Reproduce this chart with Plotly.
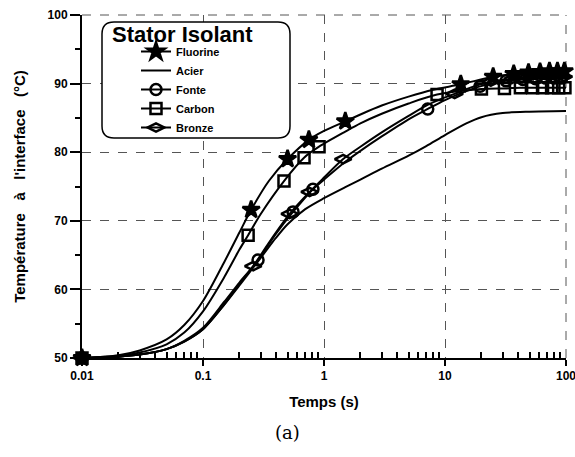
import plotly.graph_objects as go

# ---------------- data ----------------
fluorine_t = [0.01, 0.02, 0.03, 0.05, 0.07, 0.1, 0.15, 0.2, 0.25, 0.35, 0.5, 0.75, 1.0, 1.5, 2, 3, 5, 8,
              13.5, 25, 37, 49, 61, 73, 85, 97, 100]
fluorine_T = [50, 50.4, 51.1, 52.7, 54.8, 58.3, 64.0, 68.3, 71.6, 75.8, 79.0, 81.8, 83.1, 84.5, 85.5, 86.8, 88.1, 89.1,
              89.9, 91.0, 91.4, 91.6, 91.7, 91.8, 91.8, 91.8, 91.8]
fluorine_mk = [0, 8, 10, 11, 13, 18, 19, 20, 21, 22, 23, 24, 25]

acier_t = [0.01, 0.02, 0.03, 0.05, 0.07, 0.1, 0.15, 0.2, 0.3, 0.4, 0.5, 0.7, 1, 1.5, 2, 3, 5, 7, 10, 15, 20, 30, 50, 100]
acier_T = [50, 50.2, 50.5, 51.3, 52.4, 54.2, 57.8, 60.6, 64.6, 67.5, 69.5, 71.7, 73.3, 74.9, 76.0, 77.6, 79.5, 80.9,
           82.5, 84.2, 85.1, 85.7, 85.9, 86.0]
acier_mk = []

fonte_t = [0.01, 0.02, 0.03, 0.05, 0.07, 0.1, 0.15, 0.2, 0.285, 0.4, 0.555, 0.81, 1.0, 1.5, 2, 3, 5, 7.2, 10, 15,
           19.5, 32, 44, 56, 68, 80, 92, 100]
fonte_T = [50, 50.2, 50.5, 51.3, 52.4, 54.2, 57.8, 60.8, 64.3, 68.1, 71.3, 74.6, 76.0, 78.6, 80.2, 82.3, 84.8, 86.3,
           87.6, 88.9, 89.6, 90.4, 90.6, 90.7, 90.8, 90.8, 90.8, 90.8]
fonte_mk = [0, 8, 10, 11, 17, 20, 21, 22, 23, 24, 25, 26]

carbon_t = [0.01, 0.02, 0.03, 0.05, 0.07, 0.1, 0.15, 0.2, 0.236, 0.3, 0.467, 0.684, 0.91, 1.5, 2, 3, 5, 8.6,
            20, 31, 42, 53, 64, 76, 87, 98, 100]
carbon_T = [50, 50.3, 50.8, 52.0, 53.7, 56.8, 61.8, 65.8, 67.9, 71.0, 75.8, 79.2, 80.8, 83.0, 84.2, 85.6, 87.1, 88.4,
            89.2, 89.3, 89.4, 89.4, 89.4, 89.4, 89.4, 89.4, 89.4]
carbon_mk = [0, 8, 10, 11, 12, 17, 18, 19, 20, 21, 22, 23, 24, 25]

bronze_t = [0.01, 0.02, 0.03, 0.05, 0.07, 0.1, 0.15, 0.2, 0.26, 0.35, 0.52, 0.76, 1.0, 1.44, 2, 3, 5, 7, 10, 12, 15,
            24, 36, 48, 60, 72, 84, 96, 100]
bronze_T = [50, 50.2, 50.5, 51.3, 52.5, 54.4, 58.2, 61.0, 63.4, 66.8, 71.0, 74.2, 76.3, 79.0, 80.8, 82.9, 85.3, 86.8,
            88.0, 88.5, 89.2, 90.3, 90.7, 90.9, 91.0, 91.0, 91.0, 91.0, 91.0]
bronze_mk = [0, 8, 10, 11, 13, 19, 21, 22, 23, 24, 25, 26, 27]

x_tickvals = [0.01, 0.1, 1, 10, 100]
x_ticktext = ["0.01", "0.1", "1", "10", "100"]
x_minor = [m * 10.0 ** d for d in (-2, -1, 0, 1) for m in range(2, 10)]
y_tickvals = [50, 60, 70, 80, 90, 100]

series = [
    ("Fluorine", fluorine_t, fluorine_T, fluorine_mk, "star", 13),
    ("Acier", acier_t, acier_T, acier_mk, "circle", 0),
    ("Fonte", fonte_t, fonte_T, fonte_mk, "circle-open", 11),
    ("Carbon", carbon_t, carbon_T, carbon_mk, "square-open", 11),
    ("Bronze", bronze_t, bronze_T, bronze_mk, "diamond-wide-open", 12),
]

FONT = "Liberation Sans"

fig = go.Figure()
for name, t, T, mk, sym, size in series:
    if mk:
        fig.add_trace(go.Scatter(
            x=t, y=T, name=name, mode="lines+markers", cliponaxis=False,
            line=dict(color="black", width=2, shape="spline", smoothing=0.8),
            marker=dict(symbol=sym, size=size, color="black",
                        line=dict(color="black", width=2.5)),
            selectedpoints=mk,
            selected=dict(marker=dict(opacity=1)),
            unselected=dict(marker=dict(opacity=0)),
        ))
    else:
        fig.add_trace(go.Scatter(
            x=t, y=T, name=name, mode="lines",
            line=dict(color="black", width=2, shape="spline", smoothing=0.8),
        ))

# rounded legend box (plot-area px -> paper)
L, R, TOP, B = 82, 566, 15, 358
def px(xp): return (xp - L) / (R - L)
def py(yp): return (B - yp) / (B - TOP)
x0, x1, y0, y1 = px(102), px(290), py(138), py(22)
rx, ry = 12 / (R - L), 12 / (B - TOP)
path = (f"M{x0+rx},{y1} L{x1-rx},{y1} Q{x1},{y1} {x1},{y1-ry} "
        f"L{x1},{y0+ry} Q{x1},{y0} {x1-rx},{y0} L{x0+rx},{y0} Q{x0},{y0} {x0},{y0+ry} "
        f"L{x0},{y1-ry} Q{x0},{y1} {x0+rx},{y1} Z")
# dashed grid lines on the top / right edges
fig.add_shape(type="line", xref="paper", yref="paper", x0=0, x1=1, y0=1, y1=1,
              line=dict(color="#555555", width=1, dash="dash"), layer="below")
fig.add_shape(type="line", xref="paper", yref="paper", x0=1, x1=1, y0=0, y1=1,
              line=dict(color="#555555", width=1, dash="dash"), layer="below")
fig.add_shape(type="path", path=path, xref="paper", yref="paper",
              fillcolor="white", line=dict(color="black", width=1.5), layer="above")

fig.add_annotation(text="<b>Stator Isolant</b>", x=px(110), y=py(35), xref="paper", yref="paper",
                   xanchor="left", yanchor="middle", showarrow=False,
                   font=dict(family=FONT, size=22, color="black"))
fig.add_annotation(text="(a)", x=px(287), y=py(432), xref="paper", yref="paper",
                   xanchor="center", yanchor="middle",
                   showarrow=False, font=dict(family="DejaVu Serif", size=18, color="black", weight="normal"))

fig.update_layout(
    width=575, height=457,
    margin=dict(l=L, r=575 - R, t=TOP, b=457 - B),
    paper_bgcolor="white", plot_bgcolor="white",
    font=dict(family=FONT, color="black", size=12, weight="bold"),
    showlegend=True,
    legend=dict(
        x=px(136), y=py(37), xanchor="left", yanchor="top",
        bgcolor="rgba(0,0,0,0)", borderwidth=0,
        font=dict(size=11, family=FONT, weight="bold"),
        tracegroupgap=0,
    ),
)

fig.update_xaxes(
    type="log", range=[-2, 2], automargin=False,
    tickvals=x_tickvals, ticktext=x_ticktext, ticklabeloverflow="allow",
    showline=True, linecolor="black", linewidth=2,
    ticks="outside", ticklen=6, tickwidth=2, tickcolor="black",
    minor=dict(tickvals=x_minor, ticks="inside", ticklen=6, tickwidth=1.5, tickcolor="black", showgrid=False),
    showgrid=True, gridcolor="#555555", gridwidth=1, griddash="dash",
    zeroline=False,
    tickfont=dict(size=12, family=FONT, weight="bold"),
    title=dict(text="<b>Temps (s)</b>", font=dict(size=15, family=FONT), standoff=14),
)
fig.update_yaxes(
    range=[50, 100], tickvals=y_tickvals, automargin=False,
    showline=True, linecolor="black", linewidth=2,
    ticks="outside", ticklen=10, tickwidth=2, tickcolor="black",
    minor=dict(ticks="outside", ticklen=5, tickwidth=2, tickcolor="black", dtick=5, showgrid=False),
    showgrid=True, gridcolor="#555555", gridwidth=1, griddash="dash",
    zeroline=False,
    tickfont=dict(size=12, family=FONT, weight="bold"),
    title=dict(text="<b>Température\u00a0\u00a0\u00a0à\u00a0\u00a0\u00a0l'interface\u00a0\u00a0\u00a0(°C)</b>",
               font=dict(size=15, family=FONT), standoff=18),
)

fig.write_html("out.html")
